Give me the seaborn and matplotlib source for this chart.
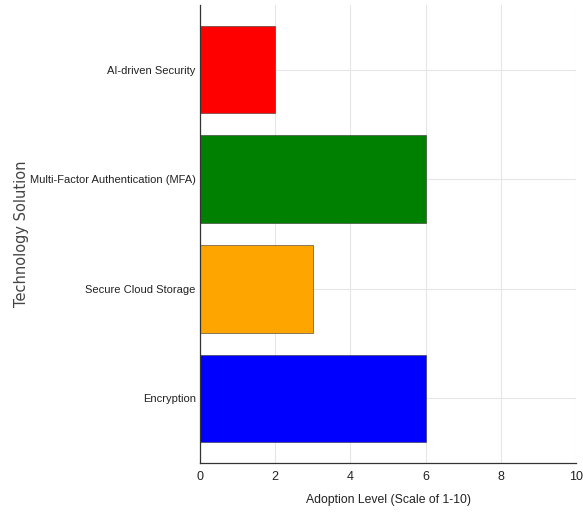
import matplotlib
matplotlib.use("Agg")
import matplotlib.pyplot as plt
import seaborn as sns
import pandas as pd

# Adoption data, top to bottom as drawn
solutions = ["AI-driven Security", "Multi-Factor Authentication (MFA)",
             "Secure Cloud Storage", "Encryption"]
adoption = [2, 6, 3, 6]
bar_colors = ["red", "green", "orange", "blue"]
x_ticks = [0, 2, 4, 6, 8, 10]

sns.set_style("whitegrid")
plt.rcParams["font.family"] = ["Liberation Sans", "DejaVu Sans"]

df = pd.DataFrame({"Technology Solution": solutions, "Adoption Level": adoption})

fig = plt.figure(figsize=(5.83, 5.13), dpi=100)
ax = fig.add_axes([200 / 583, 50 / 513, 376 / 583, 458 / 513])

sns.barplot(data=df, x="Adoption Level", y="Technology Solution",
            hue="Technology Solution", palette=bar_colors, order=solutions,
            legend=False, width=0.8, edgecolor="#333333", linewidth=0.4,
            saturation=1, ax=ax)

ax.set_xlim(0, 10)
ax.set_ylim(3.59, -0.59)
ax.set_xticks(x_ticks)
ax.grid(True, color="#e6e6e6", linewidth=0.8)
ax.set_axisbelow(True)

for side in ["top", "right"]:
    ax.spines[side].set_visible(False)
for side in ["left", "bottom"]:
    ax.spines[side].set_visible(True)
    ax.spines[side].set_color("#333333")
    ax.spines[side].set_linewidth(0.9)

ax.tick_params(axis="x", direction="in", length=4, width=0.8,
               color="#555555", labelsize=9, pad=6, labelcolor="#222222")
ax.tick_params(axis="y", length=0, labelsize=8.0, pad=3, labelcolor="#222222")

ax.set_xlabel("Adoption Level (Scale of 1-10)", fontsize=8.8, color="#222222",
              labelpad=8)
ax.set_ylabel("Technology Solution", fontsize=10.5, color="#444444",
              family=["DejaVu Sans"])
ax.yaxis.set_label_coords(-0.455, 0.5)

fig.savefig("out.png", dpi=100)
